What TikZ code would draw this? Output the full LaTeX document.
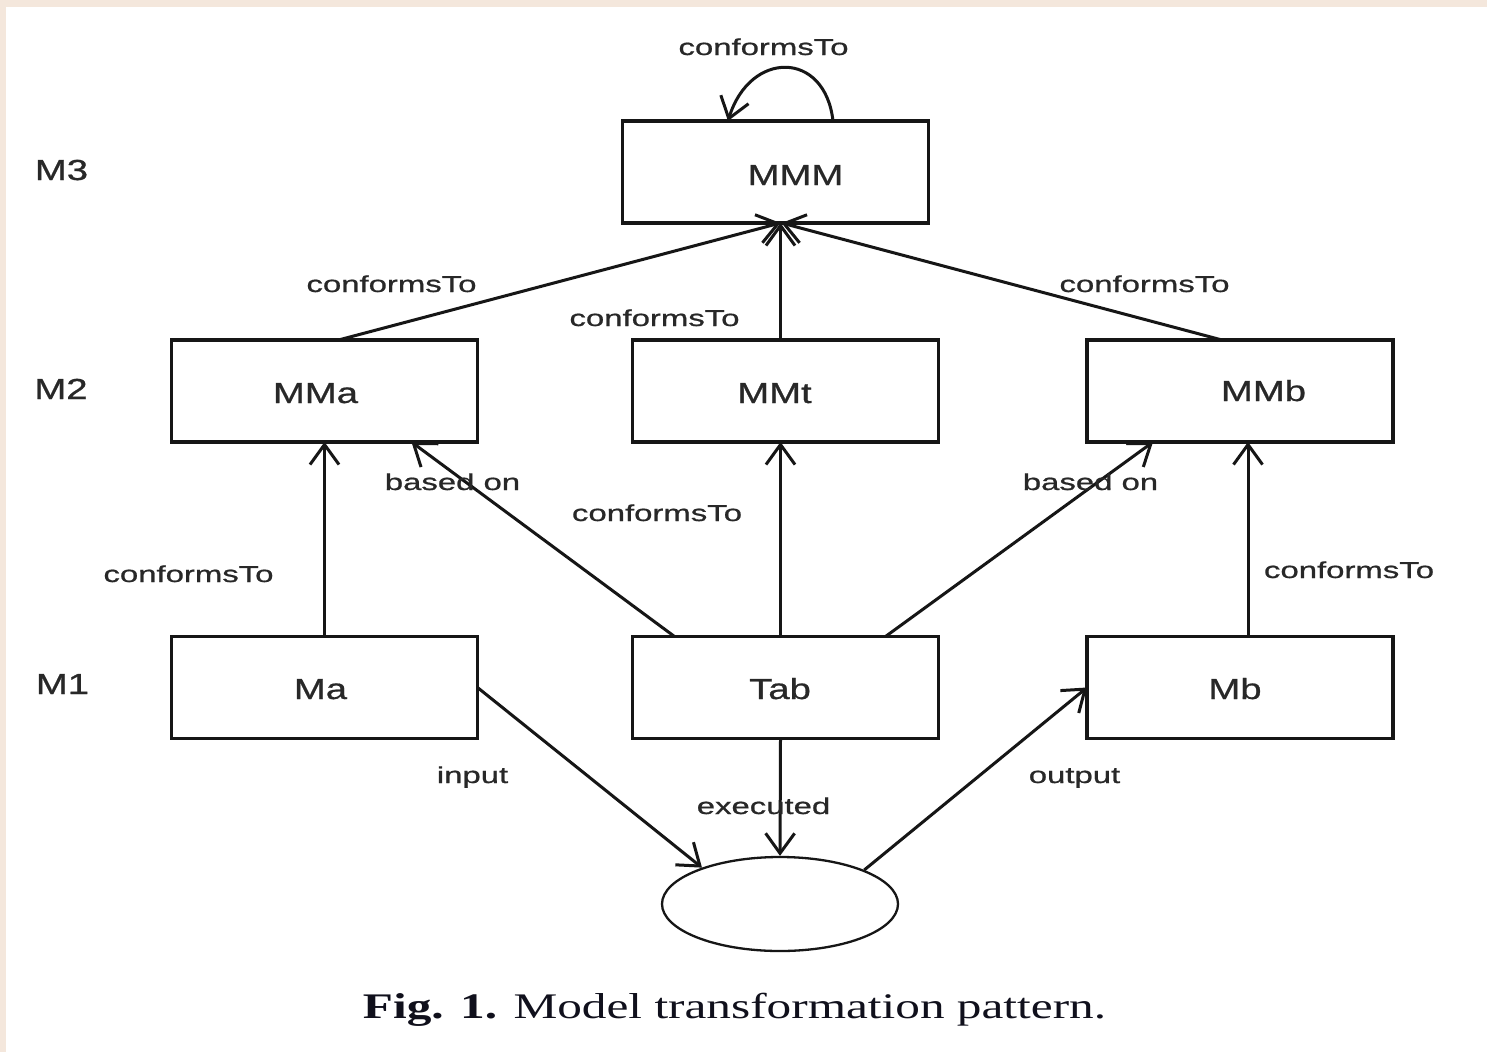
\documentclass[tikz,border=0pt]{standalone}
\usepackage{fontspec}
\usepackage{graphicx}
\usetikzlibrary{arrows.meta,shapes.geometric}
\newfontfamily\diagfont[FakeBold=0.7]{Liberation Sans}
\newfontfamily\captionserif{Liberation Serif}
\definecolor{paper}{RGB}{244,231,220}
\definecolor{ink}{RGB}{22,22,22}
\definecolor{labelink}{RGB}{40,40,40}
\definecolor{capink}{RGB}{16,16,28}
% wide sans lettering used for connector labels and box titles
\newcommand\edgetext[1]{\scalebox{1.43}[1]{\fontsize{23pt}{23pt}\selectfont\diagfont #1}}
\newcommand\boxtext[1]{\scalebox{1.32}[1]{\fontsize{29pt}{29pt}\selectfont\diagfont #1}}
\begin{document}
\begin{tikzpicture}[x=1pt,y=-1pt,
  box/.style={draw=ink, line width=3.4pt, minimum width=306pt, minimum height=102pt, inner sep=0pt, outer sep=0pt},
  lbl/.style={anchor=base, inner sep=0pt, text=labelink},
  conn/.style={draw=ink, line width=3pt, -{Straight Barb[length=20pt,width=29pt]}}]
\useasboundingbox (0,0) rectangle (1487,1052);
% page background with a tinted margin
\fill[paper] (0,0) rectangle (1487,1052);
\fill[white] (6,7) rectangle (1487,1052);

% boxes
\node[box] (MMM) at (775.5,172) {};
\node[box] (MMa) at (324.5,391) {};
\node[box] (MMt) at (785.5,391) {};
\node[box] (MMb) at (1240,391) {};
\node[box] (Ma)  at (324.5,687.5) {};
\node[box] (Tab) at (785.5,687.5) {};
\node[box] (Mb)  at (1240,687.5) {};
\node[ellipse, draw=ink, line width=2.3pt, minimum width=236pt, minimum height=94pt, inner sep=0pt] (exec) at (780,904) {};

% box titles
\node[lbl] (tMMM) at (795.5,185) {\boxtext{MMM}};
\node[lbl] (tMMa) at (315.5,403) {\boxtext{MMa}};
\node[lbl] (tMMt) at (774.5,403) {\boxtext{MMt}};
\node[lbl] (tMMb) at (1263.5,401) {\boxtext{MMb}};
\node[lbl] (tMa)  at (320.5,699) {\boxtext{Ma}};
\node[lbl] (tTab) at (780,699) {\boxtext{Tab}};
\node[lbl] (tMb)  at (1235,699) {\boxtext{Mb}};

% level names
\node[lbl] (lM3) at (61.5,180) {\boxtext{M3}};
\node[lbl] (lM2) at (61,399) {\boxtext{M2}};
\node[lbl] (lM1) at (62.5,694) {\boxtext{M1}};

% connectors
\draw[conn] ([xshift=57.5pt]MMM.north) .. controls (825,50) and (750,50) .. ([xshift=-47.5pt]MMM.north);
\draw[conn] ([xshift=14pt]MMa.north) -- ([xshift=5pt]MMM.south);
\draw[conn] ([xshift=-5pt]MMt.north) -- ([xshift=5pt]MMM.south);
\draw[conn] ([xshift=-18pt]MMb.north) -- ([xshift=6pt]MMM.south);
\draw[conn] (Ma.north) -- (MMa.south);
\draw[conn] ([xshift=42pt]Tab.north west) -- ([xshift=-66pt]MMa.south east);
\draw[conn] ([xshift=-5pt]Tab.north) -- ([xshift=-5pt]MMt.south);
\draw[conn] ([xshift=-53pt]Tab.north east) -- ([xshift=66pt]MMb.south west);
\draw[conn] ([xshift=8pt]Mb.north) -- ([xshift=8pt]MMb.south);
\draw[conn] (Ma.east) -- (exec.155);
\draw[conn] ([xshift=-5pt]Tab.south) -- (exec.north);
\draw[conn] (exec.22) -- (Mb.west);

% connector labels
\node[lbl] (cSelf) at (763.5,55) {\edgetext{conformsTo}};
\node[lbl] (cA)    at (391.5,292) {\edgetext{conformsTo}};
\node[lbl] (cT)    at (654.5,326) {\edgetext{conformsTo}};
\node[lbl] (cB)    at (1144.5,292) {\edgetext{conformsTo}};
\node[lbl] (bA)    at (452.5,490) {\edgetext{based on}};
\node[lbl] (cTab)  at (657,521) {\edgetext{conformsTo}};
\node[lbl] (bB)    at (1090.5,490) {\edgetext{based on}};
\node[lbl] (cMa)   at (188.5,582) {\edgetext{conformsTo}};
\node[lbl] (cMb)   at (1349,578) {\edgetext{conformsTo}};
\node[lbl] (lin)   at (472.5,783) {\edgetext{input}};
\node[lbl] (lexe)  at (763.5,814) {\edgetext{executed}};
\node[lbl] (lout)  at (1074.5,783) {\edgetext{output}};

% caption
\node[anchor=base, inner sep=0pt, text=capink] (caption) at (734.5,1018)
  {\resizebox{743pt}{\height}{\fontsize{36pt}{38pt}\selectfont\captionserif\textbf{Fig. 1.} Model transformation pattern.}};
\end{tikzpicture}
\end{document}
